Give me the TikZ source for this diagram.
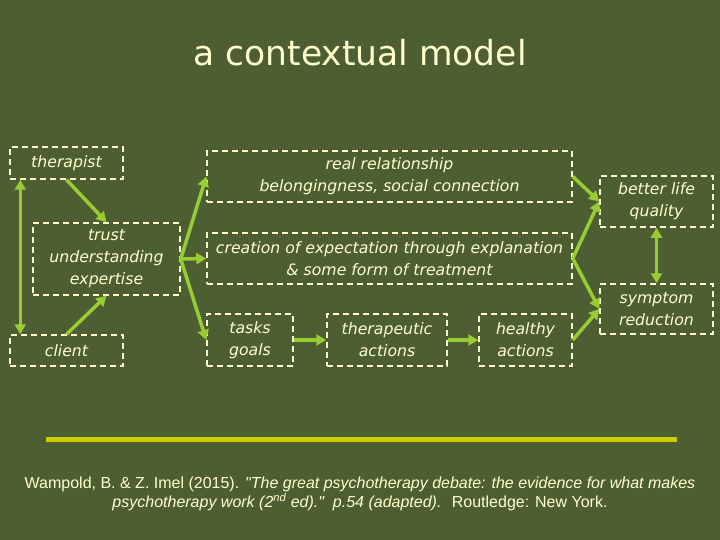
\documentclass[tikz,border=0pt]{standalone}
\usepackage{fontspec}
\setmainfont{DejaVu Sans}
\newfontfamily\citefont{Liberation Sans}
\usetikzlibrary{arrows.meta, calc}
\definecolor{bg}{RGB}{77,94,51}
\definecolor{cream}{RGB}{255,255,204}
\definecolor{lime}{RGB}{153,204,51}
\definecolor{rulecol}{RGB}{204,204,0}
\tikzset{
  >={Triangle[length=10pt, width=11pt]},
  box/.style={draw=cream, dash pattern=on 6pt off 4pt, line width=1.5pt, text=cream,
    font=\itshape\fontsize{15.7}{22}\selectfont, align=center, inner sep=0pt},
  arr/.style={->, line width=3.5pt, lime},
  darr/.style={<->, line width=3.5pt, lime},
}

\begin{document}
\begin{tikzpicture}[x=1pt, y=-1pt]
  \fill[bg] (0,0) rectangle (720,540);
  \useasboundingbox (0,0) rectangle (720,540);

  \node[text=cream, font=\fontsize{34.5}{40}\selectfont, anchor=base] (title) at (360,66) {a contextual model};

  % left column
  \node[box, minimum width=113, minimum height=32] (therapist) at (66.5,163) {therapist};
  \node[box, minimum width=147, minimum height=72] (trust) at (106.5,259) {trust\\understanding\\expertise};
  \node[box, minimum width=113, minimum height=31] (client) at (66.5,350.5) {client};

  % middle
  \node[box, minimum width=365, minimum height=51] (realrel) at (389.5,176.5) {real relationship\\belongingness, social connection};
  \node[box, minimum width=365, minimum height=51] (creation) at (389.5,258.5) {creation of expectation through explanation\\\& some form of treatment};
  \node[box, minimum width=86, minimum height=52] (tasks) at (250,340) {tasks\\goals};
  \node[box, minimum width=120, minimum height=52] (theract) at (387,340) {therapeutic\\actions};
  \node[box, minimum width=93, minimum height=52] (healthy) at (525.5,340) {healthy\\actions};

  % outcomes
  \node[box, minimum width=113, minimum height=51] (better) at (656.5,201.5) {better life\\quality};
  \node[box, minimum width=113, minimum height=50] (symptom) at (656.5,309) {symptom\\reduction};

  \draw[arr] (therapist.south) -- (trust.north);
  \draw[arr] (client.north) -- (trust.south);
  \draw[darr] ([xshift=11pt]therapist.south west) -- ([xshift=11pt]client.north west);
  \draw[arr] (trust.east) -- (realrel.west);
  \draw[arr] (trust.east) -- (creation.west);
  \draw[arr] (trust.east) -- (tasks.west);
  \draw[arr] (tasks.east) -- (theract.west);
  \draw[arr] (theract.east) -- (healthy.west);
  \draw[arr] (realrel.east) -- (better.west);
  \draw[arr] (creation.east) -- (better.west);
  \draw[arr] (creation.east) -- (symptom.west);
  \draw[arr] (healthy.east) -- (symptom.west);
  \draw[darr] (better.south) -- (symptom.north);

  \draw[rulecol, line width=5pt] (46,439) -- (677,439);

  \node[text=cream, font=\citefont\fontsize{16}{19}\selectfont, align=center] (cite) at (360,494)
    {Wampold, B. \& Z. Imel (2015). \textit{"The great psychotherapy debate: the evidence for what makes}\\
     \textit{psychotherapy work (2\textsuperscript{nd} ed)." \ p.54 (adapted).} \ Routledge: New York.};
\end{tikzpicture}
\end{document}
